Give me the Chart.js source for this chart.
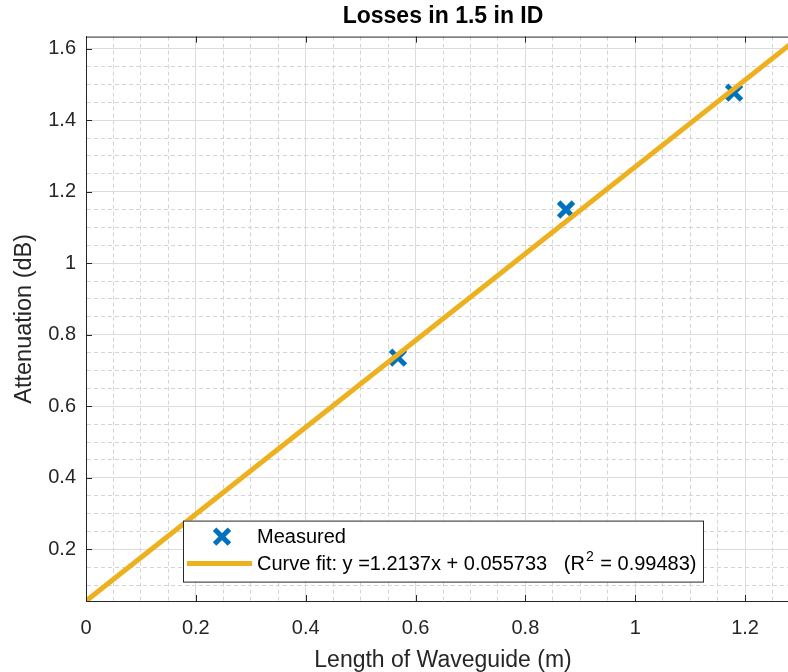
<!DOCTYPE html>
<html><head><meta charset="utf-8">
<script src="https://cdn.jsdelivr.net/npm/chart.js@4"></script>
<style>
html,body{margin:0;padding:0;background:#fff;overflow:hidden}
#wrap{width:788px;height:672px;overflow:hidden;position:relative}
canvas{display:block}
</style>
</head><body><div id="wrap"><canvas id="c" width="884" height="672"></canvas></div>
<script>
// ---- data ----
const chartTitle = 'Losses in 1.5 in ID';
const xTitle = 'Length of Waveguide (m)';
const yTitle = 'Attenuation (dB)';
const seriesLabels = ['Measured', 'Curve fit: y =1.2137x + 0.055733   (R\u00B2 = 0.99483)'];
const measuredX = [0.568, 0.874, 1.180];
const measuredY = [0.736, 1.150, 1.477];
const fitX = [0, 1.3];
const fitY = [0.055733, 1.6335];
const xTickValues = [0, 0.2, 0.4, 0.6, 0.8, 1, 1.2];
const xTickLabels = ['0', '0.2', '0.4', '0.6', '0.8', '1', '1.2'];
const yTickValues = [0.2, 0.4, 0.6, 0.8, 1, 1.2, 1.4, 1.6];
const yTickLabels = ['0.2', '0.4', '0.6', '0.8', '1', '1.2', '1.4', '1.6'];
const xLimits = [0, 1.3];
const yLimits = [0.055733, 1.6335];
const minorStep = 0.05;

// ---- helpers ----
const FONT = '"Liberation Sans", Arial, Helvetica, sans-serif';
const AXIS = '#262626';
function idxOf(v, arr) { return arr.findIndex(a => Math.abs(a - v) < 1e-6); }
function isMajor(v, arr) { return idxOf(v, arr) >= 0; }
function buildTicks(min, max, step) {
  const out = [];
  for (let k = Math.ceil(min / step - 1e-9); k * step <= max + 1e-9; k++) out.push({ value: +(k * step).toFixed(6) });
  return out;
}
function gridOpts(majors) {
  return {
    drawTicks: false,
    lineWidth: 1,
    color: c => (c.tick && isMajor(c.tick.value, majors)) ? '#dcdcdc' : '#d4d4d4'
  };
}
function borderOpts(majors) {
  return {
    display: true, color: AXIS, width: 1,
    dash: c => (c.tick && !isMajor(c.tick.value, majors)) ? [4, 3] : []
  };
}

// centre the title over the axes, like the original figure
const titleOverAxes = {
  id: 'titleOverAxes',
  afterLayout(chart) {
    if (chart.titleBlock) {
      chart.titleBlock.left = chart.chartArea.left;
      chart.titleBlock.right = chart.chartArea.right;
    }
  }
};

function drawLabelWithSup(ctx, text, x, y, size) {
  const i = text.indexOf('\u00B2');
  ctx.font = size + 'px ' + FONT;
  if (i < 0) { ctx.fillText(text, x, y); return; }
  const a = text.slice(0, i), b = text.slice(i + 1);
  ctx.fillText(a, x, y);
  let cx = x + ctx.measureText(a).width + 1;
  ctx.font = Math.round(size * 0.72) + 'px ' + FONT;
  ctx.fillText('2', cx, y - size * 0.38);
  cx += ctx.measureText('2').width + 1;
  ctx.font = size + 'px ' + FONT;
  ctx.fillText(b, cx, y);
}

const decor = {
  id: 'decor',
  afterDraw(chart) {
    const { ctx, chartArea: a, scales: { x, y } } = chart;
    ctx.save();
    ctx.strokeStyle = AXIS; ctx.lineWidth = 1; ctx.setLineDash([]);
    ctx.beginPath();
    ctx.moveTo(a.left, a.top + 0.5); ctx.lineTo(a.right, a.top + 0.5);
    ctx.moveTo(a.right - 0.5, a.top); ctx.lineTo(a.right - 0.5, a.bottom);
    const tl = 6;
    xTickValues.forEach(v => {
      const px = Math.round(x.getPixelForValue(v)) + 0.5;
      ctx.moveTo(px, a.bottom); ctx.lineTo(px, a.bottom - tl);
      ctx.moveTo(px, a.top); ctx.lineTo(px, a.top + tl);
    });
    yTickValues.forEach(v => {
      const py = Math.round(y.getPixelForValue(v)) + 0.5;
      ctx.moveTo(a.left, py); ctx.lineTo(a.left + tl, py);
      ctx.moveTo(a.right, py); ctx.lineTo(a.right - tl, py);
    });
    ctx.stroke();

    // legend box (inside axes, lower middle)
    const bx = a.left + 97, by = a.top + 484, bw = 520, bh = 61;
    ctx.fillStyle = '#fff';
    ctx.fillRect(bx, by, bw, bh);
    ctx.strokeStyle = AXIS; ctx.lineWidth = 1;
    ctx.strokeRect(bx + 0.5, by + 0.5, bw, bh);
    const r1 = by + 16, r2 = by + 43;
    const ds0 = chart.data.datasets[0], ds1 = chart.data.datasets[1];
    ctx.strokeStyle = ds0.borderColor; ctx.lineWidth = ds0.pointBorderWidth;
    const mx = bx + 39, d = ds0.pointRadius * Math.SQRT1_2;
    ctx.beginPath();
    ctx.moveTo(mx - d, r1 - d); ctx.lineTo(mx + d, r1 + d);
    ctx.moveTo(mx + d, r1 - d); ctx.lineTo(mx - d, r1 + d);
    ctx.stroke();
    ctx.strokeStyle = ds1.borderColor; ctx.lineWidth = ds1.borderWidth;
    ctx.beginPath(); ctx.moveTo(bx + 4, r2); ctx.lineTo(bx + 69, r2); ctx.stroke();
    ctx.fillStyle = '#000';
    ctx.textBaseline = 'middle'; ctx.textAlign = 'left';
    drawLabelWithSup(ctx, ds0.label, bx + 74, r1 + 1, 20);
    drawLabelWithSup(ctx, ds1.label, bx + 74, r2 + 1, 20);
    ctx.restore();
  }
};

new Chart(document.getElementById('c'), {
  type: 'scatter',
  data: {
    datasets: [
      {
        label: seriesLabels[0],
        data: measuredX.map((v, i) => ({ x: v, y: measuredY[i] })),
        pointStyle: 'crossRot', pointRadius: 10.5, pointHoverRadius: 10.5,
        pointBorderWidth: 5, borderColor: '#0072BD', backgroundColor: '#0072BD',
        showLine: false, order: 2
      },
      {
        type: 'line',
        label: seriesLabels[1],
        data: fitX.map((v, i) => ({ x: v, y: fitY[i] })),
        borderColor: '#EDB120', backgroundColor: '#EDB120', borderWidth: 5,
        pointRadius: 0, fill: false, tension: 0, order: 1
      }
    ]
  },
  options: {
    responsive: false, animation: false, devicePixelRatio: 1,
    layout: { padding: { left: 0, right: 84, top: 0, bottom: 0 } },
    plugins: {
      legend: { display: false },
      tooltip: { enabled: false },
      title: {
        display: true, text: chartTitle, color: '#000',
        font: { family: FONT, size: 23, weight: 'bold', lineHeight: 1.2 },
        padding: { top: 3, bottom: 6 }
      }
    },
    scales: {
      x: {
        type: 'linear', position: 'bottom', min: xLimits[0], max: xLimits[1],
        afterBuildTicks: s => { s.ticks = buildTicks(xLimits[0], xLimits[1], minorStep); },
        afterFit: s => { s.height = 71; },
        ticks: {
          autoSkip: false, maxRotation: 0, minRotation: 0, padding: 15, color: AXIS,
          font: { family: FONT, size: 20 },
          callback: v => { const i = idxOf(v, xTickValues); return i >= 0 ? xTickLabels[i] : ''; }
        },
        grid: gridOpts(xTickValues),
        border: borderOpts(xTickValues),
        title: { display: true, text: xTitle, color: AXIS, font: { family: FONT, size: 23, lineHeight: 1 }, padding: { top: 0, bottom: 0 } }
      },
      y: {
        type: 'linear', position: 'left', min: yLimits[0], max: yLimits[1],
        afterBuildTicks: s => { s.ticks = buildTicks(yLimits[0], yLimits[1], minorStep); },
        afterFit: s => { s.width = 86; },
        ticks: {
          autoSkip: false, padding: 10, color: AXIS,
          font: { family: FONT, size: 20 },
          callback: v => { const i = idxOf(v, yTickValues); return i >= 0 ? yTickLabels[i] : ''; }
        },
        grid: gridOpts(yTickValues),
        border: borderOpts(yTickValues),
        title: { display: true, text: yTitle, color: AXIS, font: { family: FONT, size: 23.5, lineHeight: 1.2 }, padding: { top: 10, bottom: 0 } }
      }
    }
  },
  plugins: [titleOverAxes, decor]
});
</script>
</body></html>
